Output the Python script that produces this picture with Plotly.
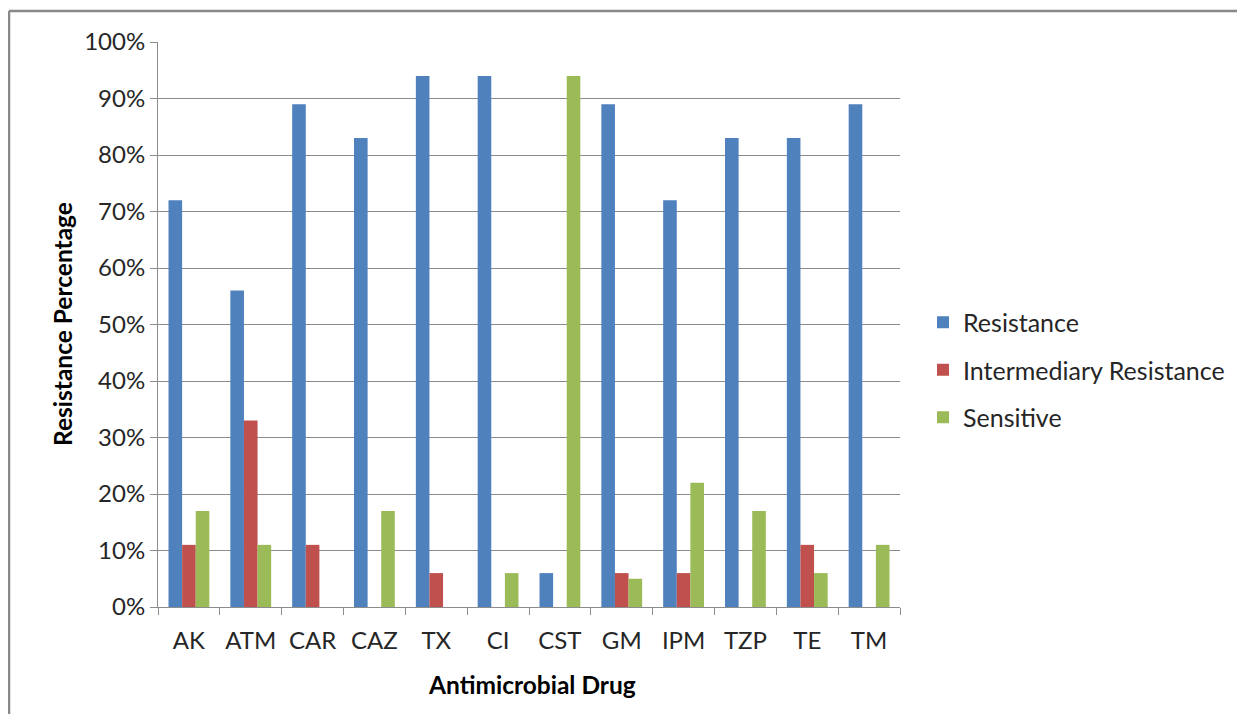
import plotly.graph_objects as go

drugs = ["AK", "ATM", "CAR", "CAZ", "TX", "CI", "CST", "GM", "IPM", "TZP", "TE", "TM"]
resistance = [72, 56, 89, 83, 94, 94, 6, 89, 72, 83, 83, 89]
intermediary = [11, 33, 11, 0, 6, 0, 0, 6, 6, 0, 11, 0]
sensitive = [17, 11, 0, 17, 0, 6, 94, 5, 22, 17, 6, 11]
y_ticks = [0, 10, 20, 30, 40, 50, 60, 70, 80, 90, 100]

OFF = 8  # page body margin
W, H = 1245 - 2 * OFF, 722 - 2 * OFF
L, R, T, B = 158 - OFF, 900 - OFF, 42 - OFF, 607 - OFF
FONT = "Lato, Carlito, Calibri, sans-serif"
TXT = "#262626"
GRID = "#8c8c8c"

fig = go.Figure()
fig.add_trace(go.Bar(name="Resistance", x=drugs, y=resistance, marker_color="#4F81BD",
                     marker_line_width=0, legendgroup="a"))
fig.add_trace(go.Bar(name="Intermediary Resistance", x=drugs, y=intermediary, marker_color="#C0504D",
                     marker_line_width=0, legendgroup="b"))
fig.add_trace(go.Bar(name="Sensitive", x=drugs, y=sensitive, marker_color="#9BBB59",
                     marker_line_width=0, legendgroup="c"))

def px_x(p):
    return (p - OFF - L) / (R - L)

def px_y(p):
    return (B - (p - OFF)) / (B - T)

fig.update_layout(
    width=W, height=H,
    margin=dict(l=L, r=W - R, t=T, b=H - B, autoexpand=False),
    paper_bgcolor="white", plot_bgcolor="white",
    barmode="group", bargap=0.34, bargroupgap=0,
    font=dict(family=FONT, size=24, color=TXT),
    showlegend=True,
    legend=dict(x=px_x(923), y=px_y(370), xanchor="left", yanchor="middle",
                font=dict(family=FONT, size=25, color=TXT),
                bgcolor="rgba(0,0,0,0)", tracegroupgap=12, itemwidth=30),
    xaxis=dict(
        type="category", showline=True, linecolor=GRID, linewidth=1,
        ticks="outside", tickson="boundaries", ticklen=7, tickcolor=GRID,
        tickfont=dict(family=FONT, size=24, color=TXT), showgrid=False,
        ticklabelstandoff=12,
    ),
    yaxis=dict(
        range=[0, 100], tickvals=y_ticks, ticktext=[f"{v}%" for v in y_ticks],
        showline=True, linecolor=GRID, linewidth=1,
        ticks="outside", ticklen=7, tickcolor=GRID,
        showgrid=True, gridcolor=GRID, gridwidth=1,
        tickfont=dict(family=FONT, size=24, color=TXT), zeroline=False,
    ),
    annotations=[
        dict(text="<b>Resistance Percentage</b>", textangle=-90, xref="paper", yref="paper",
             x=px_x(62), y=px_y(324), xanchor="center", yanchor="middle", showarrow=False,
             font=dict(family=FONT, size=24.5, color="black")),
        dict(text="<b>Antimicrobial Drug</b>", xref="paper", yref="paper",
             x=px_x(532), y=px_y(684), xanchor="center", yanchor="middle", showarrow=False,
             font=dict(family=FONT, size=24.5, color="black")),
    ],
    shapes=[
        dict(type="line", xref="paper", yref="paper",
             x0=px_x(9), x1=px_x(1300), y0=px_y(11), y1=px_y(11),
             line=dict(color="#898989", width=2.5)),
        dict(type="line", xref="paper", yref="paper",
             x0=px_x(9), x1=px_x(9), y0=px_y(11), y1=px_y(800),
             line=dict(color="#898989", width=2.5)),
    ],
)

fig.write_html("out.html")
